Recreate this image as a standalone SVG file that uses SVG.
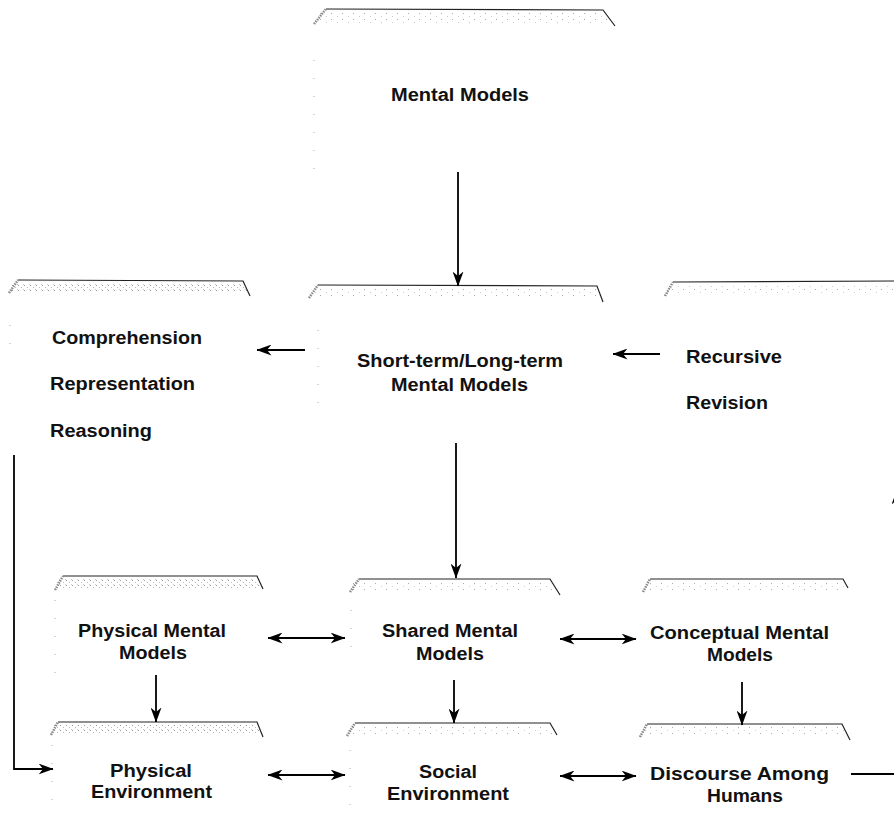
<svg xmlns="http://www.w3.org/2000/svg" width="894" height="823" viewBox="0 0 894 823">
  <defs>
    <!-- grainy grey band under each node's top rule -->
    <pattern id="grain" width="11" height="6" patternUnits="userSpaceOnUse">
      <rect x="1" y="1" width="1" height="1" fill="#aaa"/>
      <rect x="7" y="4" width="1" height="1" fill="#ccc"/>
    </pattern>
    <pattern id="grainDense" width="6" height="5" patternUnits="userSpaceOnUse">
      <rect x="0" y="0" width="1" height="1" fill="#999"/>
      <rect x="3" y="2" width="1" height="1" fill="#bbb"/>
      <rect x="5" y="4" width="1" height="1" fill="#ccc"/>
    </pattern>
    <marker id="head" viewBox="0 0 15 11" refX="14.5" refY="5.5" markerWidth="15" markerHeight="11"
            markerUnits="userSpaceOnUse" orient="auto-start-reverse">
      <path d="M0,0 L15,5.5 L0,11 L4.5,5.5 Z" fill="#000"/>
    </marker>
  </defs>
  <style>
    text { font-family: "Liberation Sans", Arial, sans-serif; font-weight: bold; font-size: 17.5px; fill: #111; }
    .rule { fill: none; stroke: #222; stroke-width: 1.2; }
    .corner { fill: none; stroke: #888; stroke-width: 2.5; stroke-dasharray: 1.5 1; }
    .band { fill: url(#grain); }
    .bandDense { fill: url(#grainDense); }
    .edge { fill: none; stroke: #aaa; stroke-width: 1; stroke-dasharray: 1 17; }
    .wire { fill: none; stroke: #000; stroke-width: 1.8; }
    .wire.arrow { marker-end: url(#head); }
    .wire.both { marker-start: url(#head); marker-end: url(#head); }
  </style>

  <rect width="894" height="823" fill="#fff"/>

  <!-- Mental Models -->
  <g id="mental-models">
    <polygon class="band" points="318,12 603,12 612,24 316,24"/>
    <path class="rule" d="M326,9 L603,10 L615,26"/>
    <path class="corner" d="M314,24 L326,9"/>
    <path class="edge" d="M314,60 L314,175"/>
    <text x="391" y="101" textLength="138" lengthAdjust="spacingAndGlyphs">Mental Models</text>
  </g>

  <!-- Comprehension / Representation / Reasoning -->
  <g id="comprehension">
    <polygon class="bandDense" points="12,283 243,283 248,292 10,292"/>
    <path class="rule" d="M18,280 L243,281 L250,296"/>
    <path class="corner" d="M9,293 L18,280"/>
    <path class="edge" d="M10,325 L10,360"/>
    <text x="52" y="344" textLength="150" lengthAdjust="spacingAndGlyphs">Comprehension</text>
    <text x="50" y="390" textLength="145" lengthAdjust="spacingAndGlyphs">Representation</text>
    <text x="50" y="437" textLength="102" lengthAdjust="spacingAndGlyphs">Reasoning</text>
  </g>

  <!-- Short-term/Long-term Mental Models -->
  <g id="short-long-term">
    <polygon class="band" points="312,288 597,288 602,298 310,298"/>
    <path class="rule" d="M318,285 L597,286 L603,302"/>
    <path class="corner" d="M309,298 L318,285"/>
    <path class="edge" d="M318,330 L318,420"/>
    <text x="357" y="367" textLength="206" lengthAdjust="spacingAndGlyphs">Short-term/Long-term</text>
    <text x="391" y="391" textLength="137" lengthAdjust="spacingAndGlyphs">Mental Models</text>
  </g>

  <!-- Recursive Revision -->
  <g id="recursive-revision">
    <polygon class="band" points="668,285 894,285 894,294 666,294"/>
    <path class="rule" d="M673,282 L894,281"/>
    <path class="corner" d="M665,296 L673,282"/>
    <text x="686" y="363" textLength="96" lengthAdjust="spacingAndGlyphs">Recursive</text>
    <text x="686" y="409" textLength="82" lengthAdjust="spacingAndGlyphs">Revision</text>
  </g>

  <!-- Physical Mental Models -->
  <g id="physical-mental-models">
    <polygon class="bandDense" points="57,579 257,579 261,588 55,588"/>
    <path class="rule" d="M63,576 L257,576 L263,589"/>
    <path class="corner" d="M55,590 L63,576"/>
    <path class="edge" d="M55,600 L55,675"/>
    <text x="78" y="637" textLength="148" lengthAdjust="spacingAndGlyphs">Physical Mental</text>
    <text x="119" y="659" textLength="68" lengthAdjust="spacingAndGlyphs">Models</text>
  </g>

  <!-- Shared Mental Models -->
  <g id="shared-mental-models">
    <polygon class="band" points="353,582 550,582 556,591 351,591"/>
    <path class="rule" d="M359,579 L550,579 L560,595"/>
    <path class="corner" d="M350,592 L359,579"/>
    <path class="edge" d="M351,610 L351,655"/>
    <text x="382" y="637" textLength="136" lengthAdjust="spacingAndGlyphs">Shared Mental</text>
    <text x="416" y="660" textLength="68" lengthAdjust="spacingAndGlyphs">Models</text>
  </g>

  <!-- Conceptual Mental Models -->
  <g id="conceptual-mental-models">
    <polygon class="band" points="645,582 843,582 846,590 643,590"/>
    <path class="rule" d="M650,579 L843,579 L848,588"/>
    <path class="corner" d="M643,592 L650,579"/>
    <text x="650" y="639" textLength="179" lengthAdjust="spacingAndGlyphs">Conceptual Mental</text>
    <text x="707" y="661" textLength="66" lengthAdjust="spacingAndGlyphs">Models</text>
  </g>

  <!-- Physical Environment -->
  <g id="physical-environment">
    <polygon class="bandDense" points="53,725 257,725 261,734 51,734"/>
    <path class="rule" d="M58,722 L257,722 L263,737"/>
    <path class="corner" d="M51,735 L58,722"/>
    <path class="edge" d="M52,745 L52,815"/>
    <text x="110" y="777" textLength="82" lengthAdjust="spacingAndGlyphs">Physical</text>
    <text x="91" y="798" textLength="121" lengthAdjust="spacingAndGlyphs">Environment</text>
  </g>

  <!-- Social Environment -->
  <g id="social-environment">
    <polygon class="band" points="349,726 550,726 555,734 347,734"/>
    <path class="rule" d="M355,723 L550,723 L557,735"/>
    <path class="corner" d="M347,736 L355,723"/>
    <path class="edge" d="M350,750 L350,815"/>
    <text x="419" y="778" textLength="58" lengthAdjust="spacingAndGlyphs">Social</text>
    <text x="387" y="800" textLength="122" lengthAdjust="spacingAndGlyphs">Environment</text>
  </g>

  <!-- Discourse Among Humans -->
  <g id="discourse-among-humans">
    <polygon class="band" points="642,727 842,727 847,735 640,735"/>
    <path class="rule" d="M647,724 L842,724 L850,740"/>
    <path class="corner" d="M640,737 L647,724"/>
    <text x="650" y="780" textLength="179" lengthAdjust="spacingAndGlyphs">Discourse Among</text>
    <text x="707" y="802" textLength="76" lengthAdjust="spacingAndGlyphs">Humans</text>
  </g>

  <!-- connectors -->
  <g id="connectors">
    <path class="wire arrow" d="M458,172 L458,286"/>
    <path class="wire arrow" d="M305,350 L257,350"/>
    <path class="wire arrow" d="M660,354 L613,354"/>
    <path class="wire arrow" d="M456,443 L456,578"/>
    <path class="wire both" d="M268,638 L345,638"/>
    <path class="wire both" d="M560,639 L636,639"/>
    <path class="wire arrow" d="M156,675 L156,722"/>
    <path class="wire arrow" d="M454,680 L454,723"/>
    <path class="wire arrow" d="M742,682 L742,725"/>
    <path class="wire both" d="M268,775 L345,775"/>
    <path class="wire both" d="M560,776 L636,776"/>
    <path class="wire arrow" d="M851,774 L897,774 L897,490"/>
    <path class="wire arrow" d="M14,455 L14,769 L53,769"/>
  </g>
</svg>
